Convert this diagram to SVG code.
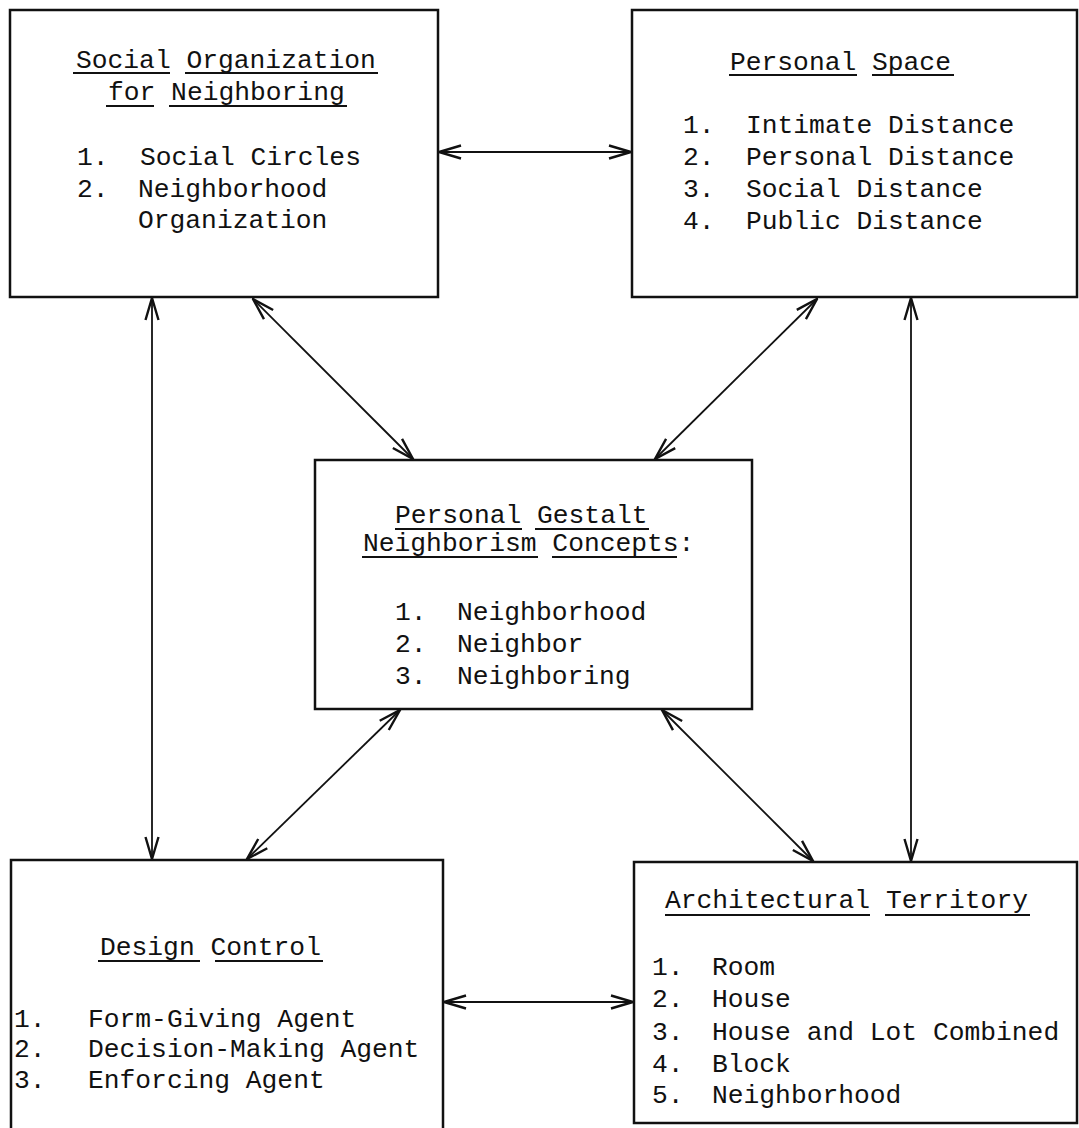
<svg xmlns="http://www.w3.org/2000/svg" width="1079" height="1128" viewBox="0 0 1079 1128">
<style>
.box{fill:none;stroke:#111;stroke-width:2.5}
.t{font-family:"Liberation Mono","Courier New",monospace;font-size:26.3px;fill:#111}
.ul{stroke:#111;stroke-width:2}
.con line{stroke:#111;stroke-width:1.8;marker-start:url(#ah);marker-end:url(#ah)}
</style>
<defs>
<marker id="ah" viewBox="0 0 24 16" refX="23" refY="8" markerWidth="24" markerHeight="16" markerUnits="userSpaceOnUse" orient="auto-start-reverse">
<path d="M1,1.5 L23,8 L1,14.5" fill="none" stroke="#111" stroke-width="2.4" stroke-linejoin="miter"/>
</marker>
</defs>
<rect width="1079" height="1128" fill="#fff"/>

<g id="social-organization">
<rect class="box" x="10" y="10" width="428" height="287"/>
<text class="t" x="76" y="68">Social Organization</text>
<line class="ul" x1="73" y1="73" x2="170" y2="73"/>
<line class="ul" x1="185" y1="73" x2="378" y2="73"/>
<text class="t" x="108" y="100">for Neighboring</text>
<line class="ul" x1="106" y1="106" x2="154" y2="106"/>
<line class="ul" x1="169" y1="106" x2="347" y2="106"/>
<text class="t" x="77" y="165">1.</text>
<text class="t" x="140" y="165">Social Circles</text>
<text class="t" x="77" y="197">2.</text>
<text class="t" x="138" y="197">Neighborhood</text>
<text class="t" x="138" y="228">Organization</text>
</g>

<g id="personal-space">
<rect class="box" x="632" y="10" width="445" height="287"/>
<text class="t" x="730" y="70">Personal Space</text>
<line class="ul" x1="729" y1="75" x2="857" y2="75"/>
<line class="ul" x1="872" y1="75" x2="954" y2="75"/>
<text class="t" x="683" y="133">1.</text>
<text class="t" x="746" y="133">Intimate Distance</text>
<text class="t" x="683" y="165">2.</text>
<text class="t" x="746" y="165">Personal Distance</text>
<text class="t" x="683" y="197">3.</text>
<text class="t" x="746" y="197">Social Distance</text>
<text class="t" x="683" y="229">4.</text>
<text class="t" x="746" y="229">Public Distance</text>
</g>

<g id="personal-gestalt">
<rect class="box" x="315" y="460" width="437" height="249"/>
<text class="t" x="395" y="523">Personal Gestalt</text>
<line class="ul" x1="395" y1="529" x2="522" y2="529"/>
<line class="ul" x1="535" y1="529" x2="649" y2="529"/>
<text class="t" x="363" y="551">Neighborism Concepts:</text>
<line class="ul" x1="362" y1="557" x2="538" y2="557"/>
<line class="ul" x1="552" y1="557" x2="677" y2="557"/>
<text class="t" x="395" y="620">1.</text>
<text class="t" x="457" y="620">Neighborhood</text>
<text class="t" x="395" y="652">2.</text>
<text class="t" x="457" y="652">Neighbor</text>
<text class="t" x="395" y="684">3.</text>
<text class="t" x="457" y="684">Neighboring</text>
</g>

<g id="design-control">
<rect class="box" x="11" y="860" width="432" height="290"/>
<text class="t" x="100" y="955">Design Control</text>
<line class="ul" x1="98" y1="961" x2="200" y2="961"/>
<line class="ul" x1="215" y1="961" x2="323" y2="961"/>
<text class="t" x="14" y="1027">1.</text>
<text class="t" x="88" y="1027">Form-Giving Agent</text>
<text class="t" x="14" y="1057">2.</text>
<text class="t" x="88" y="1057">Decision-Making Agent</text>
<text class="t" x="14" y="1088">3.</text>
<text class="t" x="88" y="1088">Enforcing Agent</text>
</g>

<g id="architectural-territory">
<rect class="box" x="634" y="862" width="443" height="261"/>
<text class="t" x="665" y="908">Architectural Territory</text>
<line class="ul" x1="665" y1="915" x2="870" y2="915"/>
<line class="ul" x1="885" y1="915" x2="1030" y2="915"/>
<text class="t" x="652" y="975">1.</text>
<text class="t" x="712" y="975">Room</text>
<text class="t" x="652" y="1007">2.</text>
<text class="t" x="712" y="1007">House</text>
<text class="t" x="652" y="1040">3.</text>
<text class="t" x="712" y="1040">House and Lot Combined</text>
<text class="t" x="652" y="1072">4.</text>
<text class="t" x="712" y="1072">Block</text>
<text class="t" x="652" y="1103">5.</text>
<text class="t" x="712" y="1103">Neighborhood</text>
</g>

<g id="connectors" class="con">
<line x1="439" y1="152" x2="631" y2="152"/>
<line x1="444" y1="1002" x2="633" y2="1002"/>
<line x1="152" y1="298" x2="152" y2="859"/>
<line x1="911" y1="298" x2="911" y2="861"/>
<line x1="253" y1="299" x2="413" y2="459"/>
<line x1="817" y1="299" x2="655" y2="459"/>
<line x1="400" y1="710" x2="247" y2="859"/>
<line x1="662" y1="710" x2="813" y2="861"/>
</g>
</svg>
